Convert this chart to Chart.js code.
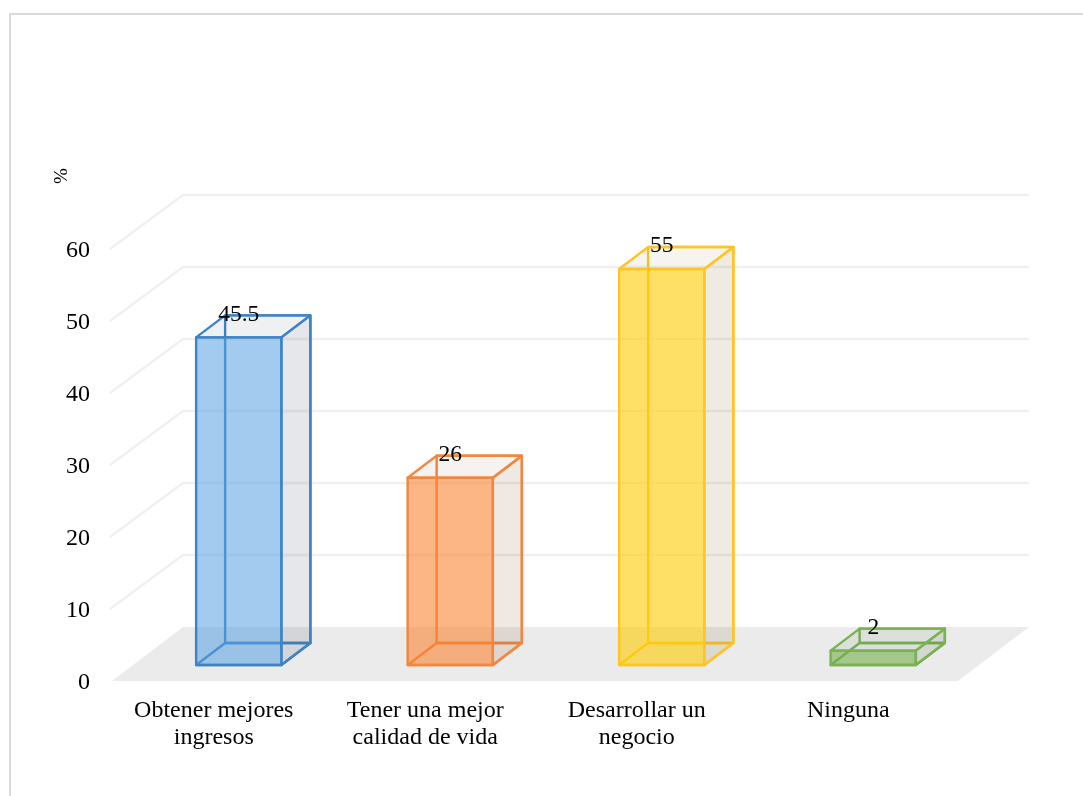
<!DOCTYPE html>
<html>
<head>
<meta charset="utf-8">
<title>Chart</title>
<script src="https://cdn.jsdelivr.net/npm/chart.js@4/dist/chart.umd.min.js"></script>
<style>
  html,body{margin:0;padding:0;background:#fff;overflow:hidden;}
  canvas{display:block;}
</style>
</head>
<body>
<canvas id="chart" width="1083" height="796"></canvas>
<script>
const categories = [["Obtener mejores","ingresos"],["Tener una mejor","calidad de vida"],["Desarrollar un","negocio"],"Ninguna"];
const values = [45.5,26,55,2];
const valueTicks = [0,10,20,30,40,50,60];
const axisUnit = "%";

const fillColors = ["rgba(84,158,226,0.54)","rgba(250,128,44,0.58)","rgba(255,204,0,0.60)","rgba(112,173,71,0.58)"];
const lineColors = ["#3f83c4","#f2883f","#ffc526","#78b350"];
const sideColors = ["rgba(68,84,106,0.14)","rgba(130,75,40,0.13)","rgba(120,100,30,0.13)","rgba(70,90,60,0.14)"];
const topColors = ["rgba(68,84,106,0.09)","rgba(130,75,40,0.07)","rgba(120,100,30,0.07)","rgba(70,90,60,0.08)"];

const FONT = '"Liberation Serif","Times New Roman",serif';
const WALL = {dx:71,dy:-54};   // depth of the floor / walls
const BAR = {dx:29,dy:-22};    // depth of one bar
const SHIFT = {dx:21,dy:-16};  // bars stand inside the floor

function poly(ctx,pts,fill,stroke){
  ctx.beginPath();
  pts.forEach((p,i)=>i?ctx.lineTo(p[0],p[1]):ctx.moveTo(p[0],p[1]));
  ctx.closePath();
  if(fill){ctx.fillStyle=fill;ctx.fill();}
  if(stroke){ctx.strokeStyle=stroke;ctx.lineWidth=2.4;ctx.lineJoin="round";ctx.stroke();}
}

function corners(bar){
  const h=bar.width/2;
  return {x0:bar.x-h+SHIFT.dx,x1:bar.x+h+SHIFT.dx,t:bar.y+SHIFT.dy,b:bar.base+SHIFT.dy};
}

const frame = {
  id:"frame",
  beforeDraw(chart){
    const ctx=chart.ctx;
    ctx.save();
    ctx.strokeStyle="#d9d9d9";ctx.lineWidth=2;
    ctx.strokeRect(10,14,1200,1000);
    ctx.restore();
  }
};

const walls = {
  id:"walls",
  beforeDatasetsDraw(chart){
    const ctx=chart.ctx,{x,y}=chart.scales;
    const l=x.left,r=x.right,b=y.getPixelForValue(0);
    ctx.save();
    poly(ctx,[[l,b],[r,b],[r+WALL.dx,b+WALL.dy],[l+WALL.dx,b+WALL.dy]],"#ebebeb");
    ctx.strokeStyle="#f0f0f0";ctx.lineWidth=2.5;
    valueTicks.filter(v=>v>0).forEach(v=>{
      const py=y.getPixelForValue(v);
      ctx.beginPath();
      ctx.moveTo(l-2,py);
      ctx.lineTo(l+WALL.dx,py+WALL.dy);
      ctx.lineTo(r+WALL.dx,py+WALL.dy);
      ctx.stroke();
    });
    // unit label beside the axis
    ctx.translate(62,176);
    ctx.rotate(-Math.PI/2);
    ctx.fillStyle="#000";ctx.font="19px "+FONT;ctx.textAlign="center";ctx.textBaseline="middle";
    ctx.fillText(axisUnit,0,0);
    ctx.restore();
  }
};

// back and floor of each box go behind the native bar, which is the front face
const boxes = {
  id:"boxes",
  beforeDatasetsDraw(chart){
    const ctx=chart.ctx,d=BAR;
    chart.getDatasetMeta(0).data.forEach((bar,i)=>{
      const {x0,x1,t,b}=corners(bar);
      poly(ctx,[[x0+d.dx,t+d.dy],[x1+d.dx,t+d.dy],[x1+d.dx,b+d.dy],[x0+d.dx,b+d.dy]],null,lineColors[i]);
      poly(ctx,[[x0,b],[x0+d.dx,b+d.dy],[x1+d.dx,b+d.dy],[x1,b]],null,lineColors[i]);
      poly(ctx,[[x0,t],[x1,t],[x1+d.dx,t+d.dy],[x0+d.dx,t+d.dy]],topColors[i],lineColors[i]);
      poly(ctx,[[x1,t],[x1+d.dx,t+d.dy],[x1+d.dx,b+d.dy],[x1,b]],sideColors[i],lineColors[i]);
    });
    ctx.save();
    ctx.translate(SHIFT.dx,SHIFT.dy);
  },
  afterDatasetsDraw(chart){
    const ctx=chart.ctx;
    ctx.restore();
    ctx.save();
    chart.getDatasetMeta(0).data.forEach((bar,i)=>{
      const {x0,x1,t,b}=corners(bar);
      poly(ctx,[[x0,t],[x1,t],[x1,b],[x0,b]],null,lineColors[i]);
    });
    ctx.fillStyle="#000";ctx.font="23.5px "+FONT;ctx.textAlign="center";ctx.textBaseline="middle";
    chart.getDatasetMeta(0).data.forEach((bar,i)=>{
      ctx.fillText(String(values[i]),bar.x+SHIFT.dx,bar.y+SHIFT.dy-23);
    });
    ctx.restore();
  }
};

new Chart(document.getElementById("chart"),{
  type:"bar",
  data:{
    labels:categories,
    datasets:[{
      data:values,
      backgroundColor:fillColors,
      borderWidth:0,
      barPercentage:0.403,
      categoryPercentage:1
    }]
  },
  options:{
    responsive:false,
    animation:false,
    layout:{padding:{top:249,right:125,left:0,bottom:0}},
    plugins:{legend:{display:false},title:{display:false},tooltip:{enabled:false}},
    scales:{
      x:{
        grid:{display:false,drawTicks:false},
        border:{display:false},
        afterFit(s){s.height=115;},
        ticks:{color:"#000",font:{family:FONT,size:24,lineHeight:1.125},padding:16,labelOffset:-4,maxRotation:0,autoSkip:false}
      },
      y:{
        min:0,max:60,
        grid:{display:false,drawTicks:false},
        border:{display:false},
        afterFit(s){s.width=112;},
        afterBuildTicks(s){s.ticks=valueTicks.map(v=>({value:v}));},
        ticks:{color:"#000",font:{family:FONT,size:24},padding:22,labelOffset:1.5}
      }
    }
  },
  plugins:[frame,walls,boxes]
});
</script>
</body>
</html>
